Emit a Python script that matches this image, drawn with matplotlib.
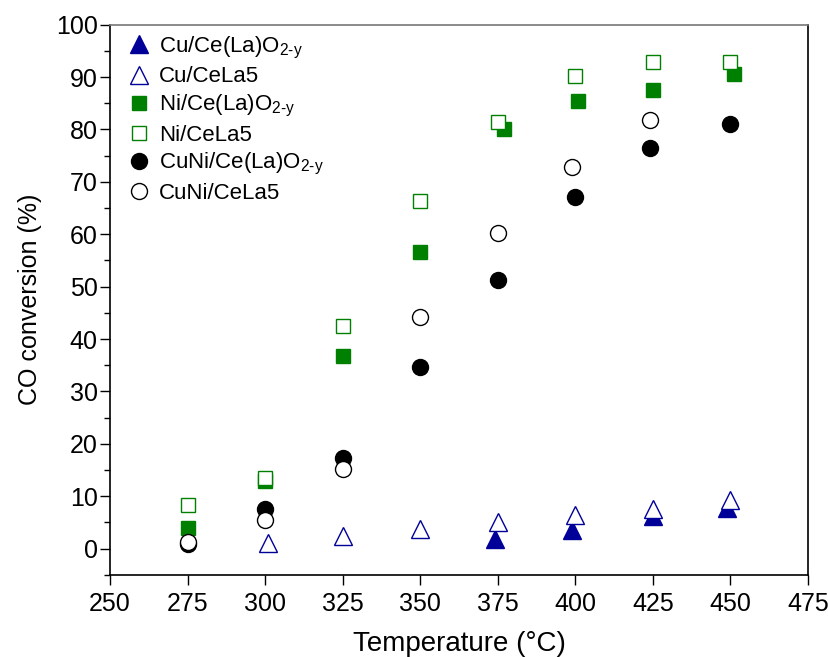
import matplotlib
matplotlib.use('Agg')
import matplotlib.pyplot as plt
from matplotlib.ticker import MultipleLocator

plt.rcParams['font.family'] = ['Liberation Sans', 'DejaVu Sans']
plt.rcParams['mathtext.fontset'] = 'custom'
plt.rcParams['mathtext.rm'] = 'Liberation Sans'

# CO conversion (%) vs temperature (°C)
cu_x = [374, 399, 425, 449]
cu_y = [1.9, 3.6, 6.3, 7.8]
cu_la5_x = [301, 325, 350, 375, 400, 425, 450]
cu_la5_y = [1.0, 2.5, 3.8, 5.1, 6.5, 7.6, 9.3]
ni_x = [275, 300, 325, 350, 377, 401, 425, 451]
ni_y = [4.0, 12.9, 36.8, 56.7, 80.1, 85.4, 87.6, 90.5]
ni_la5_x = [275, 300, 325, 350, 375, 400, 425, 450]
ni_la5_y = [8.3, 13.5, 42.5, 66.3, 81.4, 90.2, 92.9, 92.9]
cuni_x = [275, 300, 325, 350, 375, 400, 424, 450]
cuni_y = [0.9, 7.6, 17.3, 34.7, 51.2, 67.2, 76.4, 81.1]
cuni_la5_x = [275, 300, 325, 350, 375, 399, 424]
cuni_la5_y = [1.3, 5.5, 15.3, 44.3, 60.2, 72.9, 81.9]

blue = '#000099'
green = '#008000'
sub = r'$_{\mathregular{2\text{-}y}}$'

fig = plt.figure(figsize=(8.29, 6.57), dpi=100)
ax = fig.add_axes([0.1327, 0.125, 0.842, 0.8374])

ax.plot(cu_x, cu_y, ls='none', marker='^', ms=12.5, color=blue,
        label='Cu/Ce(La)O' + sub)
ax.plot(cu_la5_x, cu_la5_y, ls='none', marker='^', ms=12.5, mfc='white',
        mec=blue, mew=1.0, label='Cu/CeLa5')
ax.plot(ni_x, ni_y, ls='none', marker='s', ms=10, color=green,
        label='Ni/Ce(La)O' + sub)
ax.plot(ni_la5_x, ni_la5_y, ls='none', marker='s', ms=10, mfc='white',
        mec=green, mew=1.0, label='Ni/CeLa5')
ax.plot(cuni_x, cuni_y, ls='none', marker='o', ms=11.5, color='black',
        label='CuNi/Ce(La)O' + sub)
ax.plot(cuni_la5_x, cuni_la5_y, ls='none', marker='o', ms=11.5, mfc='white',
        mec='black', mew=1.0, label='CuNi/CeLa5')

ax.set_xlim(250, 475)
ax.set_ylim(-5, 100)
ax.xaxis.set_major_locator(MultipleLocator(25))
ax.yaxis.set_major_locator(MultipleLocator(10))
ax.yaxis.set_minor_locator(MultipleLocator(5))
ax.tick_params(axis='both', which='major', direction='out', length=7, width=1,
               top=False, right=False)
ax.tick_params(axis='y', which='minor', direction='out', length=4, width=1)
ax.tick_params(axis='y', labelsize=18, pad=2)
ax.tick_params(axis='x', labelsize=18, pad=5)
for s in ax.spines.values():
    s.set_linewidth(1.2)
ax.spines['top'].set_color('#777777')

ax.set_xlabel('Temperature (°C)', fontsize=20, labelpad=11)
ax.set_ylabel('CO conversion (%)', fontsize=18, labelpad=10)

ax.legend(loc='upper left', bbox_to_anchor=(0.0, 1.01), frameon=False,
          fontsize=16, handletextpad=0.3, labelspacing=0.25, handlelength=1.2,
          borderaxespad=0.3)

fig.savefig('out.png', dpi=100)
